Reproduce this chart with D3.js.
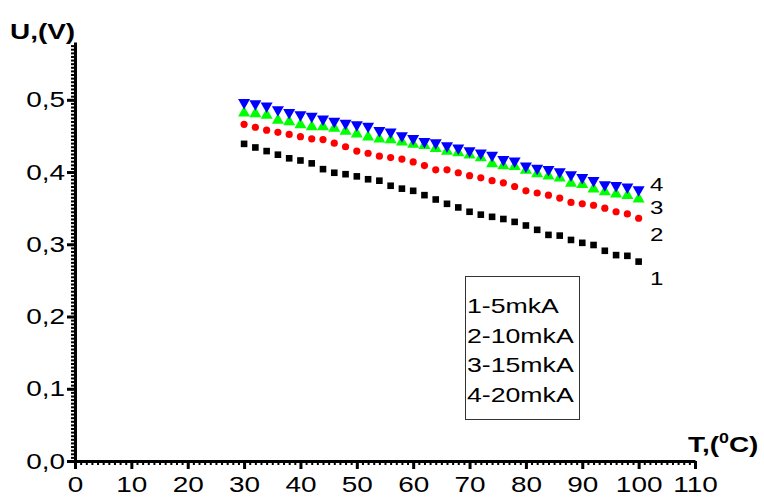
<!DOCTYPE html>
<html>
<head>
<meta charset="utf-8">
<script src="https://cdn.jsdelivr.net/npm/d3@7"></script>
<style>
  body { margin: 0; background: #fff; }
  svg { font-family: "Liberation Sans", Arial, sans-serif; }
</style>
</head>
<body>
<svg id="chart" width="764" height="497"></svg>
<script>
// temperature, degrees C
const temps = [30, 32, 34, 36, 38, 40, 42, 44, 46, 48, 50, 52,
  54, 56, 58, 60, 62, 64, 66, 68, 70, 72, 74, 76,
  78, 80, 82, 84, 86, 88, 90, 92, 94, 96, 98, 100];

// voltage, V
const u5 = [0.439, 0.434, 0.429, 0.424, 0.419, 0.416, 0.412, 0.404, 0.399, 0.397, 0.394, 0.390,
  0.388, 0.381, 0.377, 0.374, 0.368, 0.362, 0.356, 0.351, 0.345, 0.341, 0.338, 0.335,
  0.331, 0.326, 0.320, 0.313, 0.312, 0.306, 0.302, 0.299, 0.291, 0.285, 0.284, 0.276];
const u10 = [0.466, 0.462, 0.458, 0.455, 0.452, 0.449, 0.446, 0.445, 0.440, 0.435, 0.429, 0.426,
  0.422, 0.420, 0.418, 0.414, 0.409, 0.403, 0.403, 0.399, 0.395, 0.392, 0.388, 0.385,
  0.380, 0.374, 0.371, 0.368, 0.364, 0.358, 0.356, 0.354, 0.350, 0.345, 0.342, 0.336];
const u15 = [0.483, 0.482, 0.480, 0.473, 0.471, 0.467, 0.464, 0.464, 0.462, 0.458, 0.454, 0.450,
  0.447, 0.446, 0.443, 0.440, 0.438, 0.434, 0.430, 0.428, 0.425, 0.421, 0.413, 0.410,
  0.409, 0.404, 0.399, 0.396, 0.393, 0.386, 0.384, 0.378, 0.374, 0.371, 0.369, 0.364];
const u20 = [0.495, 0.493, 0.490, 0.485, 0.481, 0.478, 0.476, 0.472, 0.469, 0.466, 0.464, 0.462,
  0.456, 0.454, 0.449, 0.445, 0.441, 0.439, 0.435, 0.432, 0.428, 0.425, 0.422, 0.416,
  0.414, 0.407, 0.404, 0.402, 0.399, 0.395, 0.391, 0.387, 0.381, 0.380, 0.378, 0.374];

const xTicks = [0, 10, 20, 30, 40, 50, 60, 70, 80, 90, 100, 110];
const yTicks = [0, 0.1, 0.2, 0.3, 0.4, 0.5];
const legendLines = ["1-5mkA", "2-10mkA", "3-15mkA", "4-20mkA"];

const series = [
  { label: "1", values: u5,  shape: "square",  color: "#000000", labelDy: 23 },
  { label: "2", values: u10, shape: "circle",  color: "#ff0000", labelDy: 23 },
  { label: "3", values: u15, shape: "triUp",   color: "#00ff00", labelDy: 16 },
  { label: "4", values: u20, shape: "triDown", color: "#0000ff", labelDy: 0 }
];

// the original figure has its text stretched sideways
const stretch = 1.27;

let svg = d3.select("#chart");

let x = d3.scaleLinear().domain([0, 110]).range([75, 695]);
let y = d3.scaleLinear().domain([0, 0.58]).range([461, 42]);

let fmtY = d => d3.format(".1f")(d).replace(".", ",");

function wideText(parent, px, py, size) {
  return parent.append("text")
    .attr("transform", "translate(" + px + "," + py + ") scale(" + stretch + ",1)")
    .attr("font-size", size);
}

// minor ticks
svg.append("g")
  .attr("transform", "translate(0,461)")
  .call(d3.axisBottom(x).tickValues(d3.range(0, 111, 1)).tickSize(4).tickFormat(""))
  .call(g => g.select(".domain").remove())
  .selectAll("line").attr("stroke-width", 2);

svg.append("g")
  .attr("transform", "translate(75,0)")
  .call(d3.axisLeft(y).tickValues(d3.range(0, 116).map(i => i * 0.005)).tickSize(4).tickFormat(""))
  .call(g => g.select(".domain").remove())
  .selectAll("line").attr("stroke-width", 2);

// major axes
let xAxis = svg.append("g")
  .attr("transform", "translate(0,461)")
  .call(d3.axisBottom(x).tickValues(xTicks).tickSize(8).tickSizeOuter(0).tickPadding(7));
xAxis.select(".domain").attr("stroke-width", 3);
xAxis.selectAll("line").attr("stroke-width", 3);
xAxis.selectAll("text")
  .attr("font-size", 22).attr("fill", "#000")
  .attr("transform", "scale(" + stretch + ",1)");
xAxis.attr("font-family", null);

let yAxis = svg.append("g")
  .attr("transform", "translate(75,0)")
  .call(d3.axisLeft(y).tickValues(yTicks).tickSize(8).tickSizeOuter(0).tickFormat(fmtY));
yAxis.select(".domain").attr("stroke-width", 3);
yAxis.selectAll("line").attr("stroke-width", 3);
yAxis.selectAll("text")
  .attr("font-size", 22).attr("fill", "#000")
  .attr("x", -10 / stretch)
  .attr("transform", "scale(" + stretch + ",1)");
yAxis.attr("font-family", null);

// axis titles
wideText(svg, 10, 39, 22)
  .attr("font-weight", "bold")
  .text("U,(V)");

let tTitle = wideText(svg, 688, 452, 22).attr("font-weight", "bold");
tTitle.append("tspan").text("T,(");
tTitle.append("tspan").attr("font-size", 14).attr("dy", -9).text("0");
tTitle.append("tspan").attr("dy", 9).text("C)");

// markers
function markerPath(shape) {
  if (shape === "triUp") return "M0,-6L6,4.5L-6,4.5Z";
  if (shape === "triDown") return "M0,6L6,-4.5L-6,-4.5Z";
  return null;
}

series.forEach(s => {
  let pts = temps.map((t, i) => ({ t: t, v: s.values[i] }));
  let g = svg.append("g").attr("fill", s.color);
  if (s.shape === "square") {
    g.selectAll("rect").data(pts).enter().append("rect")
      .attr("x", d => x(d.t) - 3.3).attr("y", d => y(d.v) - 3.3)
      .attr("width", 6.6).attr("height", 6.6);
  } else if (s.shape === "circle") {
    g.selectAll("circle").data(pts).enter().append("circle")
      .attr("cx", d => x(d.t)).attr("cy", d => y(d.v))
      .attr("r", 3.6);
  } else {
    g.selectAll("path").data(pts).enter().append("path")
      .attr("d", markerPath(s.shape))
      .attr("transform", d => "translate(" + x(d.t) + "," + y(d.v) + ")");
  }
  // curve number at the end
  let last = s.values[s.values.length - 1];
  wideText(svg, 650, y(last) + s.labelDy, 19).text(s.label);
});

// legend box
svg.append("rect")
  .attr("x", 465.5).attr("y", 276.5)
  .attr("width", 114).attr("height", 143)
  .attr("fill", "none").attr("stroke", "#333").attr("stroke-width", 1);

legendLines.forEach((d, i) => {
  wideText(svg, 467, 313 + i * 29.5, 21).text(d);
});
</script>
</body>
</html>
